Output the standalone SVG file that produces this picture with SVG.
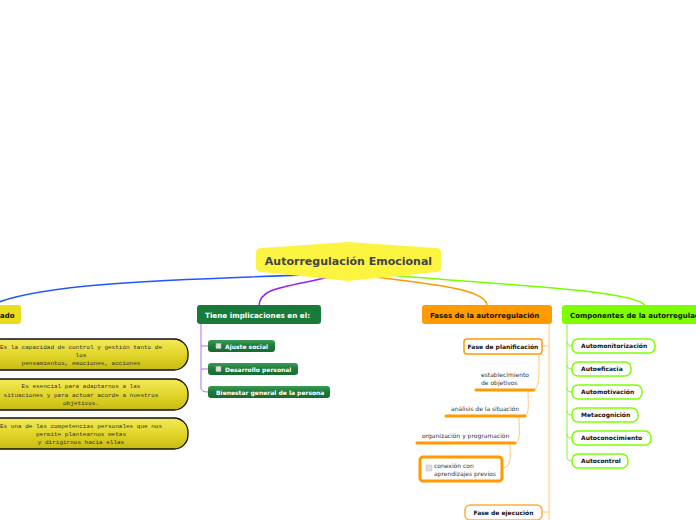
<svg xmlns="http://www.w3.org/2000/svg" width="696" height="520" viewBox="0 0 696 520">
<defs>
<linearGradient id="gy" x1="0" y1="0" x2="0" y2="1"><stop offset="0" stop-color="#f2ea5a"/><stop offset="0.5" stop-color="#e2d62a"/><stop offset="1" stop-color="#c8ba12"/></linearGradient>
<linearGradient id="gg" x1="0" y1="0" x2="0" y2="1"><stop offset="0" stop-color="#3c9a58"/><stop offset="0.5" stop-color="#1f7a3a"/><stop offset="1" stop-color="#176a30"/></linearGradient>
</defs>
<style>
.b{font-family:"DejaVu Sans",Verdana,sans-serif;font-weight:bold}
.r{font-family:"DejaVu Sans",Verdana,sans-serif;font-size:6px;fill:#333}
.m{font-family:"Liberation Mono","DejaVu Sans Mono",monospace;font-size:6px;fill:#333;text-anchor:middle}
.pill{fill:url(#gy);stroke:#111;stroke-width:1.3}
.gc{fill:url(#gg)}
.gt{font-size:6px;fill:#fff}
.ic{fill:#ddd;stroke:#bbb;stroke-width:0.5}
.oc{fill:#fff;stroke:#ff9a00;stroke-width:1.5}
.cc{fill:#fff;stroke:#7cff00;stroke-width:1.5}
.ct{font-size:6px;fill:#111}
.ul{stroke:#ff9a00;stroke-width:3;stroke-linecap:round}
</style>
<g id="connectors" fill="none">
<path d="M305 275 C150 280 30 285 -10 306" stroke="#2255ff" stroke-width="1.6"/>
<path d="M330 277 C280 288 260 288 259 306" stroke="#9b1ff0" stroke-width="1.5"/>
<path d="M375 277 C440 285 487 290 487 306" stroke="#ff9a00" stroke-width="1.5"/>
<path d="M390 275 C500 285 640 290 645 306" stroke="#77ff00" stroke-width="1.5"/>
<path d="M201 324 V388 Q201 392 208 392 M201 346 H208 M201 369 H208" stroke="#b36cf0" stroke-width="1"/>
<path d="M549 324 V520 M542 346 H549 M542 512 H549" stroke="#ffc680" stroke-width="1"/>
<path d="M539 354 C539 375 540 388 533 390 M528 390 C528 405 530 414 524 416 M519 416 C519 432 521 441 515 443 M510 443 C510 458 512 466 503 468" stroke="#ffc680" stroke-width="1"/>
<path d="M567 324 V457 Q567 461 572 461 M567 342 Q567 346 572 346 M567 365 Q567 369 572 369 M567 388 Q567 392 572 392 M567 411 Q567 415 572 415 M567 434 Q567 438 572 438" stroke="#8cf040" stroke-width="1"/>
<line class="ul" x1="476" y1="390" x2="534" y2="390"/>
<line class="ul" x1="446" y1="416" x2="525" y2="416"/>
<line class="ul" x1="417" y1="443" x2="515" y2="443"/>
</g>
<g id="central">
<path d="M262 248 L348 242 L436 248 Q441 248 441 253 L441 268 Q441 272 436 272 L348 281 L262 272 Q256 272 256 267 L256 253 Q256 248 262 248 Z" fill="#fbf542"/>
<text class="b" x="348.5" y="265" font-size="11" fill="#444" text-anchor="middle">Autorregulación Emocional</text>
</g>
<g id="n-left">
<rect x="-10" y="305" width="31" height="19" rx="3" fill="#e8dc1c"/>
<text class="b" x="0" y="318" font-size="7" fill="#111">ado</text>
</g>
<g id="n-left-1"><rect class="pill" x="-20" y="339" width="208" height="31" rx="14"/>
<text class="m" x="81" y="349">Es la capacidad de control y gestión tanto de</text><text class="m" x="81" y="357">los</text><text class="m" x="81" y="365">pensamientos, emociones, acciones</text></g>
<g id="n-left-2"><rect class="pill" x="-20" y="379" width="208" height="31" rx="14"/>
<text class="m" x="81" y="388">Es esencial para adaptarnos a las</text><text class="m" x="81" y="397">situaciones y para actuar acorde a nuestros</text><text class="m" x="81" y="405">objetivos.</text></g>
<g id="n-left-3"><rect class="pill" x="-20" y="418" width="208" height="31" rx="14"/>
<text class="m" x="81" y="428">Es una de las competencias personales que nos</text><text class="m" x="81" y="436">permite plantearnos metas</text><text class="m" x="81" y="444">y dirigirnos hacia ellas</text></g>
<g id="n-tiene">
<rect x="197" y="305" width="124" height="19" rx="3" fill="#187b3a"/>
<text class="b" x="205" y="317.5" font-size="7.2" fill="#fff">Tiene implicaciones en el:</text>
</g>
<g id="n-ajuste"><rect class="gc" x="208" y="340" width="67" height="12" rx="3"/><rect class="ic" x="216" y="343.5" width="5" height="5"/><text class="b gt" x="225" y="348.5">Ajuste social</text></g>
<g id="n-desarrollo"><rect class="gc" x="208" y="363" width="90" height="12" rx="3"/><rect class="ic" x="216" y="366.5" width="5" height="5"/><text class="b gt" x="225" y="371.5">Desarrollo personal</text></g>
<g id="n-bienestar"><rect class="gc" x="208" y="386" width="122" height="12" rx="3"/><text class="b gt" x="216" y="394.5">Bienestar general de la persona</text></g>
<g id="n-fases">
<rect x="422" y="305" width="130" height="19" rx="3" fill="#ff9a00"/>
<text class="b" x="430" y="317.5" font-size="7" fill="#111">Fases de la autorregulación</text>
</g>
<g id="n-planif"><rect class="oc" x="464" y="339" width="78" height="15" rx="3"/><text class="b ct" x="503" y="349" text-anchor="middle">Fase de planificación</text></g>
<g id="n-estab"><text class="r" x="481" y="377">establecimiento</text><text class="r" x="481" y="385">de objetivos</text></g>
<g id="n-analisis"><text class="r" x="451" y="411">análisis de la situación</text></g>
<g id="n-organiz"><text class="r" x="422" y="438">organización y programación</text></g>
<g id="n-conexion"><rect x="420" y="457" width="82" height="24" rx="3" fill="#fff" stroke="#ff9a00" stroke-width="3"/><rect class="ic" x="426" y="465" width="6" height="6"/><text class="r" x="434" y="468">conexión con</text><text class="r" x="434" y="476">aprendizajes previos</text></g>
<g id="n-ejec"><rect x="465" y="505" width="77" height="15" rx="5" fill="#fff" stroke="#ffad3a" stroke-width="1.5"/><text class="b ct" x="503.5" y="515" text-anchor="middle">Fase de ejecución</text></g>
<g id="n-comp">
<rect x="562" y="305" width="150" height="19" rx="3" fill="#7dff00"/>
<text class="b" x="570" y="317.5" font-size="7" fill="#111">Componentes de la autorregulación</text>
</g>
<g id="n-c1"><rect class="cc" x="572" y="339" width="83" height="14" rx="6"/><text class="b ct" x="581" y="348.3">Automonitorización</text></g>
<g id="n-c2"><rect class="cc" x="572" y="362" width="59" height="14" rx="6"/><text class="b ct" x="581" y="371.3">Autoeficacia</text></g>
<g id="n-c3"><rect class="cc" x="572" y="385" width="70" height="14" rx="6"/><text class="b ct" x="581" y="394.3">Automotivación</text></g>
<g id="n-c4"><rect class="cc" x="572" y="408" width="66" height="14" rx="6"/><text class="b ct" x="581" y="417.3">Metacognición</text></g>
<g id="n-c5"><rect class="cc" x="572" y="431" width="79" height="14" rx="6"/><text class="b ct" x="581" y="440.3">Autoconocimiento</text></g>
<g id="n-c6"><rect class="cc" x="572" y="454" width="56" height="14" rx="6"/><text class="b ct" x="581" y="463.3">Autocontrol</text></g>
</svg>
